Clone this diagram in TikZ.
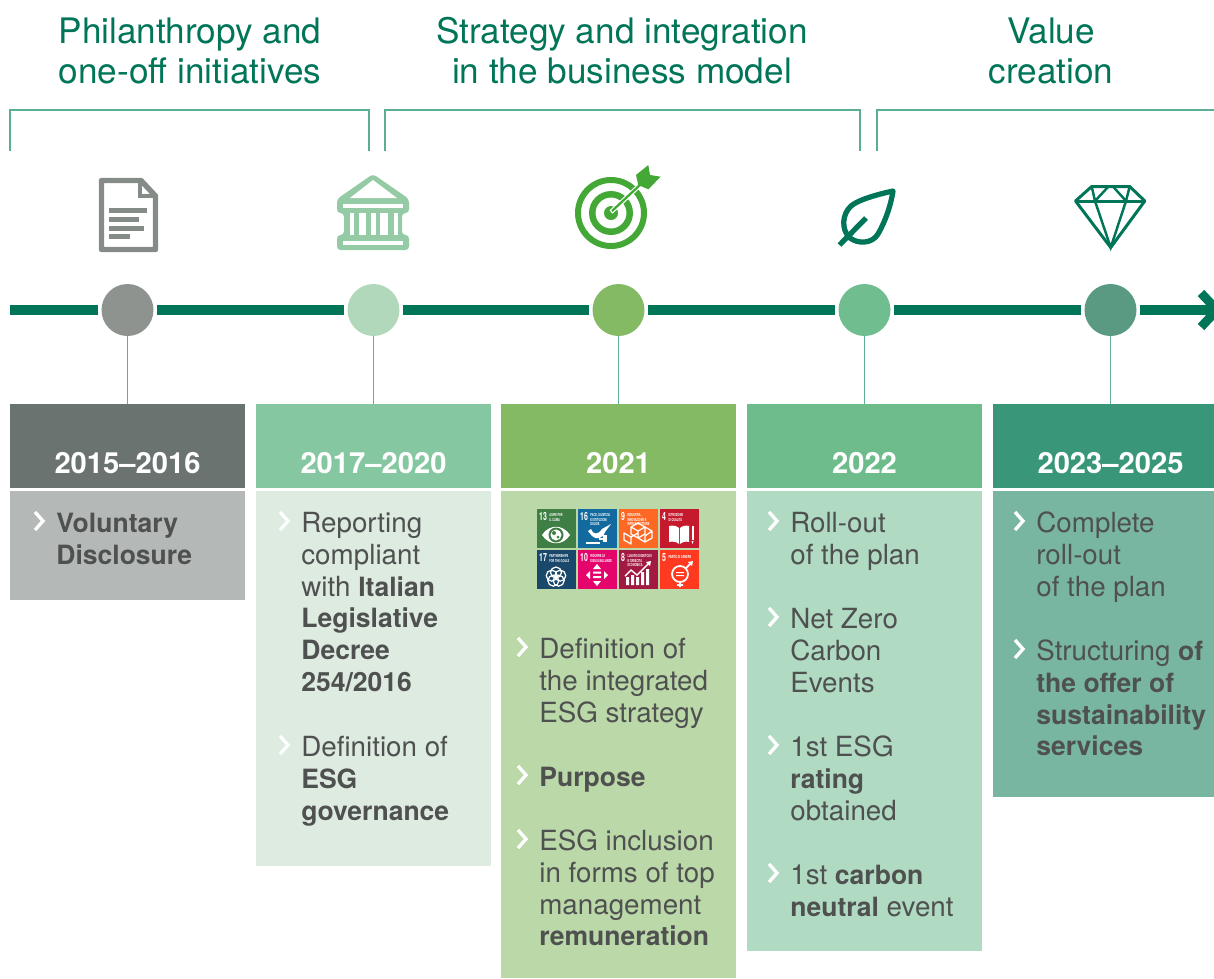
\documentclass[tikz,border=0pt]{standalone}
\usepackage{fontspec}
\setmainfont{TeX Gyre Heros}
\definecolor{linegreen}{HTML}{007558}
\definecolor{textgrey}{HTML}{4F5150}
\definecolor{bracketgreen}{HTML}{5BAE96}
\definecolor{stemgreen}{HTML}{5FB098}
\definecolor{docgrey}{HTML}{858C88}
\definecolor{bankgreen}{HTML}{94CBA5}
\definecolor{targetgreen}{HTML}{43A835}
\definecolor{dotA}{HTML}{8E9390}
\definecolor{dotB}{HTML}{B2D8BC}
\definecolor{dotC}{HTML}{84BA64}
\definecolor{dotD}{HTML}{70BD8F}
\definecolor{dotE}{HTML}{5A9A82}
\definecolor{headA}{HTML}{6B7370}
\definecolor{headB}{HTML}{85C7A0}
\definecolor{headC}{HTML}{84BA64}
\definecolor{headD}{HTML}{6EBC8C}
\definecolor{headE}{HTML}{3A9679}
\definecolor{bodyA}{HTML}{B4B8B6}
\definecolor{bodyB}{HTML}{DDEBE0}
\definecolor{bodyC}{HTML}{BBD8A9}
\definecolor{bodyD}{HTML}{B0DAC2}
\definecolor{bodyE}{HTML}{78B6A2}
\definecolor{sdgA}{HTML}{3F7E44}
\definecolor{sdgB}{HTML}{126A9F}
\definecolor{sdgC}{HTML}{FD6925}
\definecolor{sdgD}{HTML}{C5192D}
\definecolor{sdgE}{HTML}{19486A}
\definecolor{sdgF}{HTML}{E5046C}
\definecolor{sdgG}{HTML}{A21942}
\definecolor{sdgH}{HTML}{FF3A21}
\newcommand{\bld}[1]{{\bfseries\fontsize{15.1}{18.14}\selectfont #1}}
\tikzset{
	title/.style={anchor=north,align=center,inner sep=0,text=linegreen,font=\fontsize{20}{22.4}\selectfont},
	bracket/.style={draw=bracketgreen,line width=.6pt},
	timeline/.style={draw=linegreen,line width=6.2pt},
	dot/.style={circle,minimum size=1.04cm,inner sep=0,outer sep=2pt},
	stem/.style={draw=stemgreen,line width=.6pt,shorten <=-2pt},
	head/.style={anchor=north,minimum width=4.7cm,minimum height=1.68cm,inner sep=0},
	body/.style={anchor=north,minimum width=4.7cm,inner sep=0},
	year/.style={anchor=base,inner sep=0,text=white,font=\bfseries\fontsize{16.6}{18}\selectfont},
	item/.style={anchor=north west,align=left,inner sep=0,text=textgrey,font=\fontsize{15.8}{18.14}\selectfont},
	chevron/.style={draw=white,line width=1.9pt},
	sdg/.style={anchor=north west,minimum size=.78cm,inner sep=0},
	sdgnum/.style={anchor=north west,inner sep=0,text=white,transform shape,xscale=.62,font=\bfseries\fontsize{6.4}{7}\selectfont},
	sdglabel/.style={anchor=north west,align=left,inner sep=0,text=white,transform shape,xscale=.6,font=\bfseries\fontsize{2.3}{2.7}\selectfont},
}
\begin{document}
\begin{tikzpicture}[x=.02cm,y=-.02cm]
	\useasboundingbox (0,0) rectangle (1214,978);
	\clip (0,0) rectangle (1214,978);

	\node[title] (title1) at (190,16) {\strut Philanthropy and\\one-off initiatives};
	\node[title] (title2) at (622,16) {\strut Strategy and integration\\in the business model};
	\node[title] (title3) at (1051,16) {\strut Value\\creation};

	\draw[bracket](10,151)--(10,110)--(369,110)--(369,151);
	\draw[bracket](385,151)--(385,110)--(860,110)--(860,151);
	\draw[bracket](877,151)--(877,110)--(1220,110);

	\foreach \cx/\hcol/\bcol/\dcol/\bh/\yr [count=\i] in {
		127.5/headA/bodyA/dotA/109/2015–2016,
		373.5/headB/bodyB/dotB/375/2017–2020,
		618.5/headC/bodyC/dotC/487/2021,
		864.5/headD/bodyD/dotD/460/2022,
		1110.5/headE/bodyE/dotE/306/2023–2025}{
		\node[head,fill=\hcol] (head\i) at (\cx,404) {};
		\node[body,fill=\bcol,minimum height=\bh*.02cm] (body\i) at (\cx,491) {};
		\node[year] (year\i) at (\cx,473) {\yr};
		\node[dot,fill=\dcol] (dot\i) at (\cx,310) {};
		\draw[stem](dot\i)--(head\i);
	}

	\coordinate (linestart) at (10,310);
	\coordinate (lineend) at (1214,310);
	\coordinate (tiptop) at (1201,293);
	\coordinate (tip) at (1217,310);
	\coordinate (tipbottom) at (1201,327);
	\draw[timeline](linestart)--(dot1)--(dot2)--(dot3)--(dot4)--(dot5)--(lineend);
	\draw[timeline,line width=5.1pt](tiptop)--(tip)--(tipbottom);

	\foreach \tx/\ty/\txt [count=\i] in {
		57/533/{\bld{Voluntary}\\\bld{Disclosure}},
		302/533/{Reporting\\compliant\\with \bld{Italian}\\\bld{Legislative}\\\bld{Decree}\\\bld{254/2016}},
		302/757/{Definition of\\\bld{ESG}\\\bld{governance}},
		540/659/{Definition of\\the integrated\\ESG strategy},
		540/787/{\bld{Purpose}},
		540/851/{ESG inclusion\\in forms of top\\management\\\bld{remuneration}},
		791/533/{Roll-out\\of the plan},
		791/629/{Net Zero\\Carbon\\Events},
		791/757/{1st ESG\\\bld{rating}\\obtained},
		791/885/{1st \bld{carbon}\\\bld{neutral} event},
		1037/533/{Complete\\roll-out\\of the plan},
		1037/661/{Structuring \bld{of}\\\bld{the offer of}\\\bld{sustainability}\\\bld{services}}}{
		\node[item] (item\i) at (\tx-1,\ty-23.4) {\strut\txt};
		\draw[chevron](\tx-22,\ty-21)--(\tx-14,\ty-12)--(\tx-22,\ty-3);
	}

	% icons
	\draw[docgrey,line width=3.1pt,line join=round](141,180.5)--(101.5,180.5)--(101.5,249.5)--(155.5,249.5)--(155.5,196)--cycle;
	\draw[docgrey,line width=2.4pt](140,180)--(140,196)--(156,196);
	\foreach \ly/\lx in {210.5/147,219/139,228/144,236.5/130}
		\fill[docgrey](109,\ly-2.5) rectangle (\lx,\ly+2.5);

	\fill[bankgreen,rounded corners=2pt](373,174)--(409,199)--(409,213)--(402,213)--(402,235)--(409,235)--(409,250)--(337,250)--(337,235)--(344,235)--(344,213)--(337,213)--(337,199)--cycle;
	\fill[white](373,180)--(397,198)--(350,198)--cycle;
	\fill[white](343,204) rectangle (403,207.5);
	\fill[white](343,241) rectangle (403,244.5);
	\foreach \sa/\sb in {350/354,358.5/366,371/375.5,380/388,393.5/397.5}
		\fill[white](\sa,213) rectangle (\sb,235);

	\fill[targetgreen,even odd rule](611,213) circle (36) (611,213) circle (30);
	\fill[targetgreen,even odd rule](611,213) circle (22) (611,213) circle (15.5);
	\fill[targetgreen](611,213) circle (7);
	\draw[white,line width=2.6pt](611,212)--(640,185);
	\draw[targetgreen,line width=1.3pt](612,211)--(641,184);
	\fill[targetgreen](648.3,165)--(650,175)--(660.7,176.7)--(648.3,189.3)--(638.3,185)--(636,175)--cycle;

	\draw[linegreen,line width=3pt,line join=round](893,191) .. controls (875,195) and (858,200) .. (851,206) .. controls (842,214) and (841,230) .. (850,238) .. controls (858,244) and (872,244) .. (878,234) .. controls (885,222) and (891,205) .. cycle;
	\draw[linegreen,line width=3pt](866,218)--(839.5,245);

	\draw[linegreen,line width=1.7pt,line join=round](1091.7,186.5)--(1129.7,186.5)--(1144.8,201)--(1110.7,247.5)--(1075.5,201)--cycle;
	\draw[linegreen,line width=1.7pt](1075.5,201)--(1144.8,201);
	\draw[linegreen,line width=1.4pt](1091.7,186.5)--(1095,201)--(1108.5,186.5) (1113,186.5)--(1126,201)--(1129.7,186.5);
	\draw[linegreen,line width=1.4pt](1095,201)--(1110.7,247.5)--(1126,201);

	% sdg tiles
	\foreach \sx/\sy/\scol/\snum/\slab [count=\i] in {
		537/509/sdgA/13/{AGIRE PER\\IL CLIMA},
		578/509/sdgB/16/{PACE, GIUSTIZIA\\E ISTITUZIONI\\SOLIDE},
		619/509/sdgC/9/{INDUSTRIA,\\INNOVAZIONE E\\INFRASTRUTTURE},
		660/509/sdgD/4/{ISTRUZIONE\\DI QUALITÀ},
		537/550/sdgE/17/{PARTNERSHIPS\\FOR THE GOALS},
		578/550/sdgF/10/{RIDURRE LE\\DISUGUAGLIANZE},
		619/550/sdgG/8/{LAVORO DIGNITOSO\\E CRESCITA\\ECONOMICA},
		660/550/sdgH/5/{PARITÀ DI GENERE}}{
		\node[sdg,fill=\scol] (sdg\i) at (\sx,\sy) {};
		\path (sdg\i.north west)++(2,3) node[sdgnum] (num\i) {\snum};
		\path (num\i.north east)++(2,1) node[sdglabel] (lab\i) {\slab};
	}

	\begin{scope}[shift={(537,509)}]
		\fill[white](5,26) .. controls (12,15) and (26,15) .. (33,26) .. controls (26,37) and (12,37) .. (5,26);
		\fill[sdgA](19,26) circle (7.5);
		\fill[white](19,26) circle (5.5);
		\fill[sdgA](17,24) circle (2) (21,28) circle (1.5);
	\end{scope}
	\begin{scope}[shift={(578,509)}]
		\fill[white](13,20) .. controls (15,26) and (20,26) .. (24,20) -- (33,15) -- (27,23) .. controls (25,30) and (18,31) .. (14,27) -- (10,22) -- cycle;
		\fill[white](8,33) rectangle (22,34.5);
		\fill[white](25,26) rectangle (29,33);
		\fill[white](21,29) rectangle (25,30.5);
	\end{scope}
	\begin{scope}[shift={(619,509)}]
		\draw[white,line width=.7pt,line join=round]
			(19,14)--(26,18)--(19,22)--(12,18)--cycle (12,18)--(12,25)--(19,29)--(26,25)--(26,18) (19,22)--(19,29)
			(5,24)--(12,28)--(12,35)--(5,31)--cycle (12,28)--(19,24)
			(19,29)--(26,33)--(33,29)--(33,22)--(26,18) (26,33)--(26,27)--(33,22);
	\end{scope}
	\begin{scope}[shift={(660,509)}]
		\fill[white](9,17) .. controls (13,16) and (17,17) .. (19,19) -- (19,35) .. controls (17,33) and (13,32) .. (9,33) -- cycle;
		\fill[white](20,19) .. controls (22,17) and (26,16) .. (29,17) -- (29,33) .. controls (26,32) and (22,33) .. (20,35) -- cycle;
		\fill[white](31.5,17) rectangle (33.5,31);
		\fill[white](31.5,32)--(33.5,32)--(32.5,35)--cycle;
	\end{scope}
	\begin{scope}[shift={(537,550)}]
		\foreach \ra in {18,90,162,234,306}
			\draw[white,line width=.7pt]({19+4.5*cos(\ra)},{27-4.5*sin(\ra)}) circle (5.5);
	\end{scope}
	\begin{scope}[shift={(578,550)}]
		\fill[white](19,14)--(23,19)--(15,19)--cycle (19,36)--(23,31)--(15,31)--cycle;
		\fill[white](8,25)--(12,21)--(12,29)--cycle (30,25)--(26,21)--(26,29)--cycle;
		\fill[white](15,21.5) rectangle (23,23.5) (15,26) rectangle (23,28);
	\end{scope}
	\begin{scope}[shift={(619,550)}]
		\fill[white](7,27) rectangle (10,35) (12,25) rectangle (15,35) (17,27) rectangle (20,35) (22,22) rectangle (25,35) (27,19) rectangle (30,35);
		\draw[white,line width=.8pt](6,26)--(12,20)--(18,25)--(30,13);
		\fill[white](32,11)--(31,16)--(27,12)--cycle;
	\end{scope}
	\begin{scope}[shift={(660,550)}]
		\draw[white,line width=1pt](20,24) circle (8);
		\fill[white](16,22) rectangle (24,23.2) (16,25) rectangle (24,26.2);
		\draw[white,line width=1pt](20,32)--(20,37) (17,35)--(23,35) (25.5,18.5)--(31,13);
		\fill[white](33,11)--(32,16)--(28,12)--cycle;
	\end{scope}
\end{tikzpicture}
\end{document}
